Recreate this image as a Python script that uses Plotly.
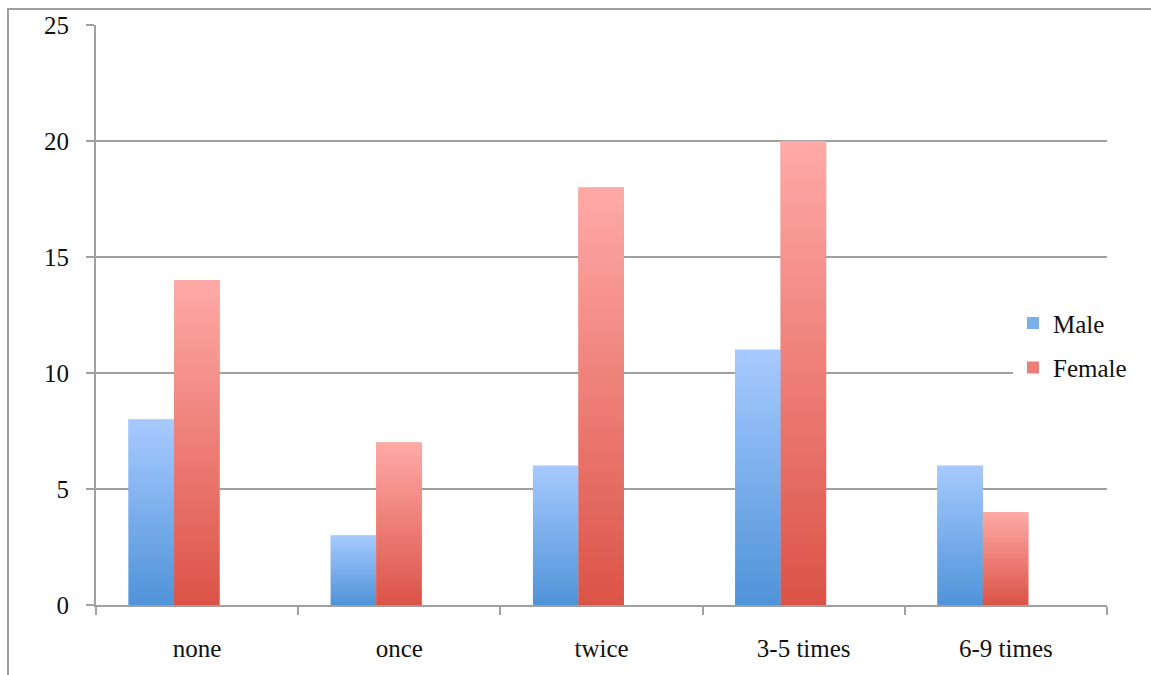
import plotly.graph_objects as go

categories = ["none", "once", "twice", "3-5 times", "6-9 times"]
male = [8, 3, 6, 11, 6]
female = [14, 7, 18, 20, 4]
y_ticks = [0, 5, 10, 15, 20, 25]

male_top, male_bot = "#a7caff", "#4f93d8"
female_top, female_bot = "#ffaaa7", "#db5347"
male_mid, female_mid = "#7bafec", "#ee7e77"

BAR_W = 0.225
SHIFT = -0.114
FONT = "Liberation Serif, DejaVu Serif, serif"
GRID = "#a0a0a0"
FS = 25

fig = go.Figure()

series = [("Male", male, SHIFT - BAR_W, male_top, male_bot, male_mid),
          ("Female", female, SHIFT, female_top, female_bot, female_mid)]

# Real bars (category axis), used for layout and legend
for name, vals, off, top, bot, mid in series:
    fig.add_trace(go.Bar(
        x=categories, y=vals, name=name, width=BAR_W, offset=off,
        marker=dict(color=mid, line=dict(width=0)),
        legendgroup=name,
    ))

# Gradient overlays matching each bar (linear overlay axis)
for name, vals, off, top, bot, mid in series:
    for i, v in enumerate(vals):
        x0, x1 = i + off, i + off + BAR_W
        fig.add_trace(go.Scatter(
            x=[x0, x0, x1, x1, x0], y=[0, v, v, 0, 0],
            xaxis="x2", mode="lines", line=dict(width=0),
            fill="toself",
            fillgradient=dict(type="vertical", colorscale=[[0, bot], [1, top]]),
            showlegend=False, hoverinfo="skip",
        ))

L, R, T, B = 96, 44, 22, 70
W, H = 1151, 675
pw, ph = W - L - R, H - T - B

def px_x(x):
    return (x - L) / pw

def px_y(y):
    return (H - B - y) / ph

fig.update_layout(
    width=W, height=H,
    margin=dict(l=L, r=R, t=T, b=B),
    paper_bgcolor="white", plot_bgcolor="white",
    font=dict(family=FONT, size=FS, color="#111111"),
    showlegend=True,
    legend=dict(x=px_x(1013), y=px_y(344), xanchor="left", yanchor="middle",
                bgcolor="white", font=dict(size=FS, family=FONT),
                traceorder="grouped", tracegroupgap=9, itemwidth=30),
    xaxis=dict(type="category", categoryarray=categories, range=[-0.5, 4.5],
               showline=True, linecolor=GRID, linewidth=2,
               ticks="outside", ticklen=8, tickwidth=2, tickcolor=GRID,
               tickson="boundaries", showgrid=False, zeroline=False,
               ticklabelstandoff=20,
               tickfont=dict(size=FS, family=FONT)),
    xaxis2=dict(overlaying="x", range=[-0.5, 4.5], visible=False),
    yaxis=dict(range=[0, 25], tickvals=y_ticks,
               showline=True, linecolor=GRID, linewidth=2,
               ticks="outside", ticklen=8, tickwidth=2, tickcolor=GRID,
               showgrid=True, gridcolor=GRID, gridwidth=2,
               zeroline=False, ticklabelstandoff=12,
               tickfont=dict(size=FS, family=FONT)),
    shapes=[dict(type="rect", xref="paper", yref="paper",
                 x0=px_x(8), x1=px_x(W + 20), y0=px_y(H + 20), y1=px_y(6),
                 line=dict(color=GRID, width=2), fillcolor="rgba(0,0,0,0)",
                 layer="below")],
)

fig.write_html("out.html", config={"displayModeBar": False},
               post_script="document.body.style.margin='0';document.body.style.padding='0';")
